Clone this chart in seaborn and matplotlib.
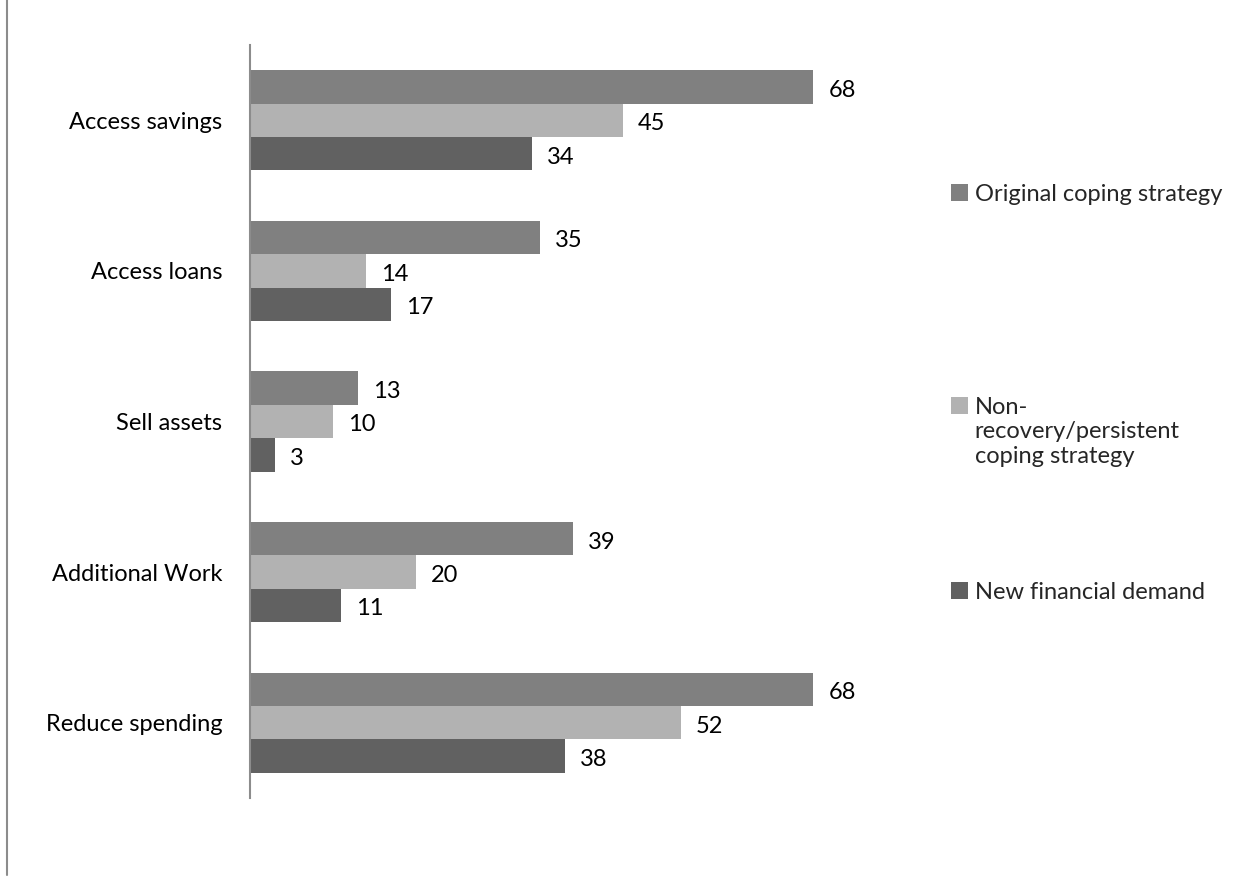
import pandas as pd
import seaborn as sns
import matplotlib.pyplot as plt
from matplotlib.lines import Line2D

categories = ["Access savings", "Access loans", "Sell assets", "Additional Work", "Reduce spending"]
series_names = ["Original coping strategy",
                "Non-\nrecovery/persistent\ncoping strategy",
                "New financial demand"]
original = [68, 35, 13, 39, 68]
persistent = [45, 14, 10, 20, 52]
new_demand = [34, 17, 3, 11, 38]
colors = ["#808080", "#b2b2b2", "#616161"]

df = pd.DataFrame({
    "category": categories * 3,
    "series": [series_names[0]] * 5 + [series_names[1]] * 5 + [series_names[2]] * 5,
    "value": original + persistent + new_demand,
})

sns.set_style("white")
plt.rcParams["font.family"] = ["Lato", "DejaVu Sans"]
FS = 17

fig = plt.figure(figsize=(12.44, 8.84), dpi=100)
ax = fig.add_axes([250 / 1244, 86 / 884, 650 / 1244, 753 / 884])

sns.barplot(data=df, x="value", y="category", hue="series", order=categories,
            hue_order=series_names, palette=colors, width=0.665,
            saturation=1, orient="h", ax=ax, errorbar=None, linewidth=0)

for cont in ax.containers:
    for ann in ax.bar_label(cont, padding=11, fontsize=FS, color="black"):
        ann.xyann = (11, -2.5)  # labels sit a touch below bar centre in the original

ax.set_xlim(0, 650 / 8.28)
ax.set_xlabel("")
ax.set_ylabel("")
ax.set_xticks([])
ax.tick_params(axis="y", length=0, pad=20, labelsize=FS, labelcolor="black")
for side in ["top", "right", "bottom"]:
    ax.spines[side].set_visible(False)
ax.spines["left"].set_color("#8c8c8c")
ax.spines["left"].set_linewidth(1.5)

# legend entries are spaced unevenly in the original, so one small legend per entry
handles, labels = ax.get_legend_handles_labels()
ax.get_legend().remove()
legend_tops = [184, 397, 582]
for h, lab, top in zip(handles, labels, legend_tops):
    leg = fig.legend([h], [lab], loc="upper left",
                     bbox_to_anchor=(951 / 1244, 1 - top / 884),
                     frameon=False, fontsize=FS, borderpad=0, borderaxespad=0,
                     handlelength=0.7, handleheight=0.7, handletextpad=0.3)
    for col in leg._legend_handle_box.get_children():
        for item in col.get_children():
            item.align = "top"

# outer frame line on the left edge
fig.add_artist(Line2D([7 / 1244, 7 / 1244], [1 - 875 / 884, 1], transform=fig.transFigure,
                      color="#8c8c8c", linewidth=1.5))

fig.savefig("out.png", dpi=100)
